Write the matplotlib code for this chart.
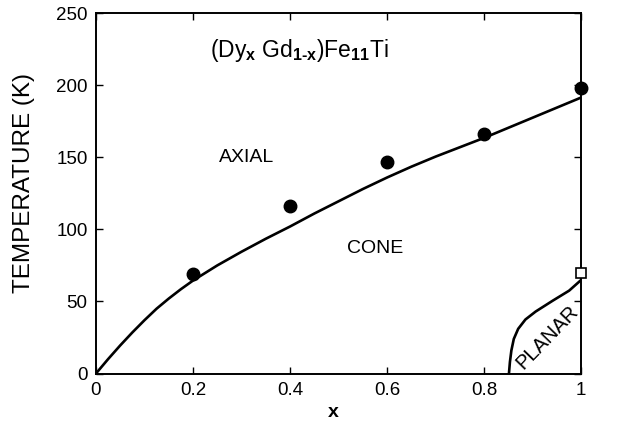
import matplotlib
matplotlib.use("Agg")
import matplotlib.pyplot as plt

plt.rcParams['font.family'] = ['Liberation Sans', 'DejaVu Sans']
plt.rcParams['mathtext.fontset'] = 'custom'
plt.rcParams['mathtext.rm'] = 'Liberation Sans'
plt.rcParams['mathtext.bf'] = 'Liberation Sans:bold'

# Measured data points (Dy_x Gd_1-x)Fe11Ti
x_pts = [0.2, 0.4, 0.6, 0.8, 1.0]
t_pts = [69, 116, 147, 166, 198]
x_open = [1.0]
t_open = [70]

# Axial/cone boundary
x_ac = [0.0, 0.025, 0.05, 0.075, 0.1, 0.125, 0.15, 0.175, 0.2, 0.25, 0.3, 0.35, 0.4,
        0.45, 0.5, 0.55, 0.6, 0.65, 0.7, 0.75, 0.8, 0.85, 0.9, 0.95, 1.0]
t_ac = [0, 10, 19.5, 28.5, 37, 45, 52, 58.5, 64.5, 75, 84.5, 93.5, 102,
        111, 119.5, 128, 136, 143.5, 150.5, 157, 163.5, 170.5, 177.5, 184.5, 191.5]

# Cone/planar boundary
x_cp = [0.851, 0.853, 0.856, 0.861, 0.870, 0.885, 0.906, 0.941, 0.975, 1.0]
t_cp = [0, 8, 16, 24, 31, 37.5, 43, 50.5, 57.5, 65]

xticks = [0, 0.2, 0.4, 0.6, 0.8, 1.0]
xticklabels = ['0', '0.2', '0.4', '0.6', '0.8', '1']
yticks = [0, 50, 100, 150, 200, 250]

fig = plt.figure(figsize=(6.23, 4.24), dpi=100)
ax = fig.add_axes([0.154, 0.119, 0.779, 0.850])

ax.plot(x_ac, t_ac, color='black', lw=1.9, solid_joinstyle='round')
ax.plot(x_cp, t_cp, color='black', lw=1.9, solid_joinstyle='round')
ax.plot(x_pts, t_pts, 'o', color='black', ms=9, clip_on=False, zorder=5)
ax.plot(x_open, t_open, 's', mfc='white', mec='black', mew=1.2, ms=6.5,
        clip_on=False, zorder=6)

ax.set_xlim(0, 1)
ax.set_ylim(0, 250)
ax.set_xticks(xticks)
ax.set_xticklabels(xticklabels)
ax.set_yticks(yticks)
ax.tick_params(direction='in', top=True, right=True, length=5, width=1,
               labelsize=13.5, pad=6)
for s in ax.spines.values():
    s.set_linewidth(1.4)

ax.set_xlabel('x', fontsize=14, fontweight='bold', va='center')
ax.xaxis.set_label_coords(0.49, -0.108)
ax.set_ylabel('TEMPERATURE (K)', fontsize=17.5, va='center')
ax.yaxis.set_label_coords(-0.148, 0.53)

ax.text(0.42, 224, '(Dy$_{\\mathbf{x}}$ Gd$_{\\mathbf{1\u2010x}}$)Fe$_{\\mathbf{11}}$Ti',
        fontsize=16.5, ha='center', va='center')
ax.text(0.31, 150, 'AXIAL', fontsize=14, ha='center', va='center')
ax.text(0.575, 87, 'CONE', fontsize=14, ha='center', va='center')
ax.text(0.93, 25, 'PLANAR', fontsize=14.5, ha='center', va='center', rotation=46)

fig.savefig('out.png', dpi=100)
